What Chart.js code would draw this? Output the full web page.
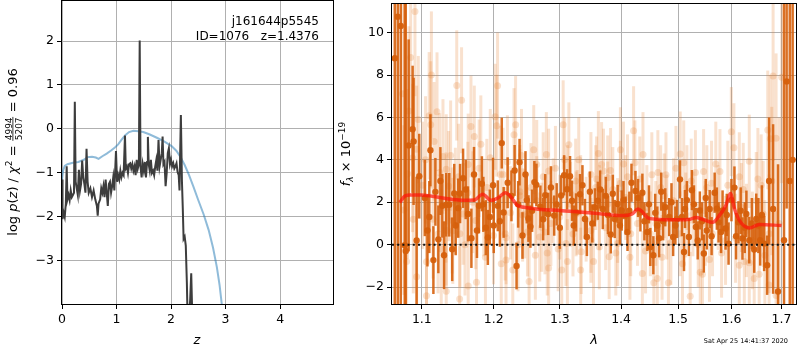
<!DOCTYPE html>
<html>
<head>
<meta charset="utf-8">
<script src="https://cdn.jsdelivr.net/npm/chart.js@4.4.1/dist/chart.umd.min.js"></script>
<style>
  body { margin: 0; background: #fff; }
  canvas { position: absolute; top: 0; }
  #pzChart { left: 0; }
  #specChart { left: 335px; }
</style>
</head>
<body>
<canvas id="pzChart" width="335" height="350"></canvas>
<canvas id="specChart" width="465" height="350"></canvas>
<script>
// ---- left panel: log p(z) ----
const zTicks = [0, 1, 2, 3, 4];
const logPzTicks = [-3, -2, -1, 0, 1, 2];

const zGrid = [
  0.000, 0.010, 0.030, 0.050, 0.070, 0.086, 0.100, 0.120, 0.140, 0.160,
  0.180, 0.200, 0.220, 0.235, 0.250, 0.270, 0.290, 0.310, 0.330, 0.350,
  0.370, 0.390, 0.410, 0.430, 0.450, 0.470, 0.490, 0.520, 0.550, 0.580,
  0.610, 0.640, 0.655, 0.670, 0.700, 0.720, 0.740, 0.760, 0.780, 0.800,
  0.820, 0.840, 0.860, 0.880, 0.900, 0.920, 0.940, 0.960, 0.990, 1.010,
  1.030, 1.050, 1.070, 1.090, 1.110, 1.130, 1.155, 1.170, 1.190, 1.210,
  1.230, 1.250, 1.270, 1.290, 1.310, 1.330, 1.350, 1.370, 1.390, 1.410,
  1.425, 1.440, 1.460, 1.480, 1.500, 1.520, 1.540, 1.560, 1.575, 1.590,
  1.610, 1.630, 1.650, 1.670, 1.690, 1.710, 1.730, 1.750, 1.770, 1.790,
  1.810, 1.830, 1.845, 1.860, 1.880, 1.900, 1.920, 1.940, 1.960, 1.980,
  2.000, 2.020, 2.040, 2.060, 2.080, 2.100, 2.120, 2.140, 2.155, 2.180,
  2.200, 2.215, 2.230, 2.250, 2.270, 2.290, 2.300, 2.320, 2.350, 2.370,
  2.390, 2.410, 2.450
];
const logPz = [
  -1.15, -2.05, -1.90, -2.00, -1.70, -0.85, -1.60, -1.50, -1.62, -1.40,
  -1.55, -1.50, -1.45, 0.62, -1.20, -1.35, -1.50, -0.93, -1.40, -1.25,
  -0.72, -1.10, -1.25, -1.45, -0.45, -1.20, -1.45, -1.35, -1.55, -1.40,
  -1.60, -1.75, -1.97, -1.70, -1.60, -1.35, -1.45, -1.30, -1.55, -1.15,
  -1.45, -1.75, -1.25, -1.20, -1.45, -1.30, -1.10, -1.40, -0.50, -1.20,
  -1.05, -1.15, -0.95, -1.10, -1.00, -1.05, -0.15, -0.90, -0.85, -1.00,
  -0.80, -0.78, -0.90, -0.80, -0.95, -0.85, -1.05, -0.70, -0.90, -0.80,
  2.01, -0.85, -1.10, -0.80, -0.95, -0.75, -1.10, -0.75, -0.18, -0.80,
  -0.95, -0.70, -1.00, -0.95, -1.05, -0.85, -0.70, -0.95, -0.25, -0.85,
  -0.70, -0.55, -0.17, -0.80, -0.75, -1.30, -1.00, -0.55, -0.44, -0.80,
  -0.70, -0.85, -0.78, -0.90, -0.85, -0.78, -0.98, -1.05, -1.40, 0.32,
  -1.20, -1.80, -2.50, -2.45, -2.65, -3.50, -4.10, -4.40, -3.90, -3.28,
  -4.30, -5.00, -6.00
];

const zTemplate = [
  0.00, 0.02, 0.05, 0.10, 0.20, 0.30, 0.40, 0.47, 0.55, 0.62,
  0.67, 0.74, 0.82, 0.90, 0.97, 1.03, 1.09, 1.16, 1.23, 1.31,
  1.40, 1.49, 1.60, 1.74, 1.88, 2.01, 2.10, 2.17, 2.25, 2.33,
  2.41, 2.50, 2.60, 2.69, 2.77, 2.84, 2.89, 2.93, 2.97
];
const logPzTemplate = [
  -1.16, -0.95, -0.84, -0.80, -0.77, -0.75, -0.70, -0.64, -0.63, -0.65,
  -0.68, -0.62, -0.56, -0.49, -0.42, -0.35, -0.25, -0.14, -0.07, -0.04,
  -0.05, -0.07, -0.12, -0.20, -0.29, -0.39, -0.50, -0.63, -0.82, -1.05,
  -1.31, -1.62, -1.95, -2.30, -2.70, -3.14, -3.55, -3.98, -4.40
];

// ---- right panel: spectrum ----
const lamTicks = [1.1, 1.2, 1.3, 1.4, 1.5, 1.6, 1.7];
const fluxTicks = [-2, 0, 2, 4, 6, 8, 10];

const lamModel = [
  1.071, 1.078, 1.085, 1.099, 1.124, 1.140, 1.155, 1.172, 1.184, 1.196,
  1.207, 1.217, 1.224, 1.234, 1.252, 1.303, 1.356, 1.400, 1.419, 1.429,
  1.436, 1.445, 1.459, 1.498, 1.522, 1.533, 1.545, 1.564, 1.579, 1.589,
  1.598, 1.606, 1.616, 1.635, 1.655, 1.700
];
const fluxModel = [
  1.99, 2.30, 2.34, 2.34, 2.22, 2.14, 2.09, 2.10, 2.38, 2.09,
  2.22, 2.45, 2.30, 1.88, 1.73, 1.60, 1.48, 1.37, 1.45, 1.68,
  1.56, 1.28, 1.20, 1.17, 1.20, 1.28, 1.20, 1.05, 1.45, 1.83,
  2.41, 1.68, 1.12, 0.79, 0.95, 0.90
];

// binned points (dark)
const lamBinned = [
  1.0646, 1.0684, 1.0723, 1.0775, 1.0788, 1.0826, 1.0878, 1.0891, 1.0931, 1.0966,
  1.1075, 1.1115, 1.1155, 1.1182, 1.1222, 1.1276, 1.1330, 1.1371, 1.1412, 1.1440,
  1.1495, 1.1521, 1.1563, 1.1632, 1.1717, 1.1759, 1.1787, 1.1829, 1.1886, 1.1915,
  1.1943, 1.2059, 1.2117, 1.2145, 1.2204, 1.2307, 1.2336, 1.2381, 1.2425, 1.2470,
  1.2515, 1.2545, 1.2605, 1.2636, 1.2697, 1.2772, 1.2818, 1.2911, 1.3020, 1.3067,
  1.3114, 1.3161, 1.3193, 1.3257, 1.3321, 1.3400, 1.3432, 1.3481, 1.3562, 1.3611,
  1.3693, 1.3743, 1.3826, 1.3892, 1.3942, 1.4010, 1.4077, 1.4109, 1.4177, 1.4245,
  1.4331, 1.4365, 1.4452, 1.4504, 1.4557, 1.4627, 1.4697, 1.4768, 1.4839, 1.4910,
  1.4980, 1.5034, 1.5107, 1.5125, 1.5197, 1.5252, 1.5326, 1.5400, 1.5474, 1.5530,
  1.5584, 1.5678, 1.5753, 1.5829, 1.5886, 1.5944, 1.6058, 1.6136, 1.6214, 1.6292,
  1.6349, 1.6447, 1.6487, 1.6566, 1.6646, 1.6706, 1.6746, 1.6827, 1.6928, 1.7051,
  1.7105, 1.7170, 1.7230,
  1.1040, 1.1100, 1.1250, 1.1300, 1.1460, 1.1600, 1.1680, 1.1850, 1.1990, 1.2000,
  1.2090, 1.2260, 1.2360, 1.2490, 1.2570, 1.2740, 1.2860, 1.2950, 1.3000, 1.3220,
  1.3360, 1.3520, 1.3650, 1.3780, 1.3860, 1.3980, 1.4040, 1.4140, 1.4290, 1.4400,
  1.4480, 1.4590, 1.4660, 1.4730, 1.4880, 1.4950, 1.5070, 1.5160, 1.5290, 1.5360,
  1.5440, 1.5510, 1.5620, 1.5720, 1.5800, 1.5910, 1.6000, 1.6090, 1.6180, 1.6260,
  1.6400, 1.6530, 1.6600
];
const fluxBinned = [
  8.79, 10.75, 10.31, -0.03, -0.30, 4.68, 5.44, 4.87, 0.20, 3.23,
  0.67, 4.45, -0.73, 2.49, 0.25, 1.83, 1.88, 1.88, -0.22, 2.41,
  1.72, 2.41, 3.13, 1.45, 3.31, 0.67, 1.83, 2.87, 0.80, 0.34,
  1.30, 1.83, 4.79, 1.52, 2.92, 3.50, -1.01, 3.89, 0.43, 3.31,
  1.23, 0.85, 2.95, 2.82, 1.79, 2.33, 1.45, 1.37, 2.32, 3.27,
  2.61, 3.23, 2.07, 1.52, 2.38, 1.21, 0.36, 2.50, 1.76, 2.07,
  1.68, 2.30, 0.48, 1.21, 1.92, 1.61, 1.37, 0.60, 2.92, 2.53,
  1.52, 2.45, 0.60, -0.11, -0.50, 0.90, 2.50, 1.76, 1.30, 0.36,
  1.21, 3.08, -0.35, 1.68, 0.36, 2.57, 0.83, 1.61, -0.42, 0.67,
  1.68, 2.45, 1.05, 1.61, 0.76, 0.05, 2.69, 1.05, 0.29, 1.45,
  0.21, -0.23, 1.21, 0.21, 0.05, -0.97, 3.00, 1.68, -2.21, 0.21,
  7.70, 3.00, 4.00,
  2.20, 1.30, 3.00, -0.50, 0.90, 2.60, 0.30, 1.90, 2.80, 0.90,
  1.10, 2.30, 1.90, 2.10, 1.60, 1.20, 2.70, 1.90, 0.80, 0.90,
  2.80, 1.00, 2.60, 1.40, 2.40, 0.90, 2.10, 1.60, 2.20, 1.10,
  1.90, 1.50, 0.30, 1.10, 2.00, 0.90, 1.30, 2.10, 1.90, 0.20,
  1.10, 2.20, 0.40, 1.70, 0.60, 1.40, 2.10, 0.40, 1.60, 0.80,
  1.00, 0.90, 1.40
];
const errBinned = [
  15, 15, 14, 12, 12, 5, 3, 3, 3, 2.0,
  1.7, 1.7, 1.6, 1.6, 1.6, 1.5, 1.5, 1.5, 1.5, 1.4,
  1.4, 1.4, 1.4, 1.3, 1.3, 1.3, 1.3, 1.3, 1.3, 1.3,
  1.3, 1.2, 1.2, 1.2, 1.2, 1.2, 1.1, 1.1, 1.1, 1.1,
  1.1, 1.0, 1.0, 1.0, 1.0, 1.0, 1.0, 0.95, 0.95, 0.95,
  0.95, 0.95, 0.95, 0.9, 0.95, 0.95, 0.9, 0.95, 0.9, 0.9,
  0.95, 0.9, 0.9, 0.9, 0.9, 0.95, 0.9, 0.9, 0.9, 0.95,
  0.9, 0.9, 0.9, 0.9, 0.9, 0.9, 0.9, 0.9, 0.9, 0.9,
  0.9, 0.9, 0.9, 0.9, 0.9, 0.95, 0.9, 0.9, 0.9, 0.9,
  0.9, 0.95, 0.95, 0.95, 1.0, 1.0, 1.0, 1.0, 1.0, 1.1,
  1.1, 1.1, 1.2, 1.2, 1.3, 1.4, 3, 4, 6, 15,
  6, 15, 15,
  1.8, 1.7, 1.6, 1.6, 1.4, 1.4, 1.4, 1.3, 1.3, 1.3,
  1.2, 1.2, 1.1, 1.1, 1.0, 1.0, 1.0, 1.0, 1.0, 0.95,
  0.95, 0.9, 0.9, 0.9, 0.9, 0.9, 0.9, 0.9, 0.9, 0.9,
  0.9, 0.9, 0.9, 0.9, 0.9, 0.9, 0.9, 0.9, 0.9, 0.9,
  0.9, 0.9, 0.9, 1.0, 1.0, 1.0, 1.0, 1.1, 1.1, 1.2,
  1.2, 1.3, 1.4
];

// individual exposures (light)
const lamRaw = [
  1.0748, 1.0763, 1.0799, 1.0812, 1.0829, 1.0852, 1.0878, 1.0887, 1.0909, 1.0931,
  1.0931, 1.0953, 1.1062, 1.1062, 1.1098, 1.1119, 1.1128, 1.1165, 1.1204, 1.1218,
  1.1261, 1.1285, 1.1326, 1.1330, 1.1330, 1.1330, 1.1363, 1.1412, 1.1420, 1.1455,
  1.1475, 1.1515, 1.1519, 1.1542, 1.1563, 1.1629, 1.1635, 1.1635, 1.1674, 1.1721,
  1.1741, 1.1752, 1.1814, 1.1856, 1.1900, 1.1997, 1.2020, 1.2043, 1.2056, 1.2097,
  1.2136, 1.2168, 1.2180, 1.2180, 1.2247, 1.2298, 1.2322, 1.2358, 1.2386, 1.2386,
  1.2427, 1.2459, 1.2525, 1.2553, 1.2595, 1.2641, 1.2641, 1.2687, 1.2717, 1.2768,
  1.2789, 1.2803, 1.2825, 1.2825, 1.2895, 1.2973, 1.2999, 1.3052, 1.3076, 1.3096,
  1.3119, 1.3119, 1.3142, 1.3208, 1.3251, 1.3258, 1.3275, 1.3331, 1.3331, 1.3341,
  1.3498, 1.3498, 1.3498, 1.3576, 1.3590, 1.3636, 1.3636, 1.3673, 1.3705, 1.3775,
  1.3775, 1.3799, 1.3822, 1.3942, 1.3942, 1.3988, 1.3988, 1.4077, 1.4109, 1.4164,
  1.4213, 1.4236, 1.4365, 1.4376, 1.4443, 1.4504, 1.4566, 1.4627, 1.4637, 1.4686,
  1.4711, 1.4781, 1.4797, 1.4825, 1.4916, 1.5034, 1.5038, 1.5102, 1.5161, 1.5221,
  1.5271, 1.5317, 1.5407, 1.5448, 1.5470, 1.5530, 1.5619, 1.5638, 1.5744, 1.5779,
  1.5886, 1.5997, 1.6048, 1.6153, 1.6153, 1.6193, 1.6251, 1.6292, 1.6349, 1.6349,
  1.6447, 1.6487, 1.6546, 1.6586, 1.6626, 1.6719, 1.6746, 1.6746, 1.6770, 1.6827,
  1.6888, 1.6888, 1.7004,
  1.1010, 1.1050, 1.1150, 1.1240, 1.1390, 1.1500, 1.1590, 1.1700, 1.1790, 1.1880,
  1.1950, 1.2110, 1.2200, 1.2280, 1.2410, 1.2500, 1.2620, 1.2740, 1.2860, 1.2930,
  1.3030, 1.3170, 1.3300, 1.3420, 1.3540, 1.3620, 1.3740, 1.3860, 1.3910, 1.4040,
  1.4150, 1.4280, 1.4320, 1.4420, 1.4530, 1.4600, 1.4750, 1.4870, 1.4960, 1.5080,
  1.5140, 1.5240, 1.5370, 1.5500, 1.5580, 1.5700, 1.5810, 1.5930, 1.6080, 1.6230,
  1.6410, 1.6520, 1.6660, 1.6800, 1.6950
];
const fluxRaw = [
  7.12, 1.63, -0.80, 3.34, 6.30, 8.83, 4.09, 1.20, 11.00, 4.50,
  -1.51, 5.90, -0.81, -2.41, 6.08, 5.65, 8.00, 4.87, 6.27, 0.50,
  -0.20, 4.16, 1.75, 3.55, 0.67, -2.20, 2.76, 1.14, 0.65, 2.07,
  7.51, -2.57, 0.51, 6.81, 1.45, 2.45, 3.78, -1.95, 5.57, 5.10,
  1.14, -1.77, 4.74, 1.75, 2.69, 0.43, 6.03, 5.61, 7.50, 3.31,
  3.31, 0.51, -0.73, 0.33, 1.50, 5.18, 5.65, 0.00, 2.50, 2.30,
  1.40, 1.45, -1.74, 2.69, 4.48, 3.78, 2.07, 0.36, 0.82, 0.60,
  4.25, -0.40, 3.47, -1.10, 2.07, -0.20, 1.30, 5.65, 4.00, 0.05,
  2.69, -0.80, 4.71, 0.50, 3.00, 1.45, 1.52, 2.22, -1.20, -0.33,
  3.31, 0.67, 0.20, 2.69, 3.10, 1.75, -0.11, 3.78, 3.47, 3.15,
  1.92, -0.57, 3.50, 1.14, 0.05, 4.48, 2.90, 2.22, 3.20, 0.51,
  5.37, 3.86, -1.36, 4.25, 1.75, 0.51, -1.80, -1.60, 3.40, 2.69,
  -0.60, 3.30, 1.30, -1.80, 2.07, 0.51, 4.28, 3.86, 2.69, -2.44,
  1.45, 3.40, -1.30, -1.40, 3.45, 2.69, 2.90, 0.51, 1.75, 3.45,
  0.20, 5.33, 4.57, 3.20, -0.97, 1.75, -0.80, 0.67, 3.93, -0.85,
  -1.60, 2.07, -1.40, 2.80, 1.45, 5.41, 0.51, -1.90, 5.00, 7.95,
  5.02, -2.40, 7.90,
  2.80, 4.00, 1.20, 3.40, 4.20, 3.20, 0.00, 2.00, 3.60, -0.60,
  4.10, -0.90, 3.90, -1.20, 4.20, 0.60, -0.50, 3.20, 1.00, 3.60,
  -1.20, 1.90, 4.00, 1.20, -0.80, 4.30, 0.80, 2.60, -0.40, 3.80,
  -0.60, 1.00, 3.10, -0.30, 3.30, 1.00, 2.30, 0.10, 3.60, -0.90,
  1.40, 3.00, 0.00, 1.00, -0.70, 3.80, -0.40, 2.80, 0.30, 2.60,
  0.20, 3.10, -0.50, 3.00, 1.00
];
const errRaw = [
  5, 4, 4, 4, 4, 4, 3.5, 3.5, 4, 3,
  3, 3, 3, 3, 3, 3, 3, 2.8, 2.8, 2.8,
  2.8, 2.7, 2.6, 2.6, 2.6, 2.6, 2.6, 2.5, 2.5, 2.5,
  2.6, 2.5, 2.5, 2.5, 2.4, 2.4, 2.4, 2.4, 2.4, 2.4,
  2.3, 2.3, 2.3, 2.3, 2.3, 2.3, 2.5, 2.4, 2.5, 2.3,
  2.2, 2.2, 2.2, 2.2, 2.2, 2.2, 2.3, 2.2, 2.2, 2.2,
  2.2, 2.1, 2.1, 2.1, 2.1, 2.1, 2.1, 2.1, 2.1, 2.0,
  2.0, 2.0, 2.0, 2.0, 2.0, 2.0, 2.0, 2.1, 2.0, 2.0,
  2.0, 2.0, 2.0, 2.0, 2.0, 2.0, 2.0, 2.0, 2.0, 2.0,
  2.0, 2.0, 2.0, 2.0, 2.0, 2.0, 2.0, 2.0, 2.0, 2.0,
  2.0, 2.0, 2.0, 2.0, 2.0, 2.0, 2.0, 2.0, 2.0, 2.0,
  2.1, 2.0, 2.0, 2.0, 2.0, 2.0, 2.0, 2.0, 2.0, 2.0,
  2.0, 2.0, 2.0, 2.0, 2.0, 2.0, 2.0, 2.0, 2.0, 2.1,
  2.0, 2.0, 2.0, 2.0, 2.0, 2.0, 2.0, 2.0, 2.0, 2.0,
  2.1, 2.1, 2.1, 2.1, 2.1, 2.1, 2.2, 2.2, 2.2, 2.2,
  2.3, 2.3, 2.4, 2.4, 2.5, 2.8, 2.8, 2.8, 3, 4,
  4, 4, 5,
  3, 3, 2.8, 2.8, 2.6, 2.5, 2.4, 2.4, 2.3, 2.3,
  2.3, 2.2, 2.2, 2.2, 2.2, 2.1, 2.1, 2.1, 2.0, 2.0,
  2.0, 2.0, 2.0, 2.0, 2.0, 2.0, 2.0, 2.0, 2.0, 2.0,
  2.0, 2.0, 2.0, 2.0, 2.0, 2.0, 2.0, 2.0, 2.0, 2.0,
  2.0, 2.0, 2.0, 2.0, 2.0, 2.0, 2.1, 2.1, 2.1, 2.2,
  2.3, 2.4, 2.6, 3.5, 5
];

const FONT = 'DejaVu Sans';
const pts = (xs, ys) => xs.map((x, i) => ({ x: x, y: ys[i] }));
const minus = v => String(v).replace('-', '\u2212');

// vertical error bars, drawn just before the dataset's own markers
const errorBars = {
  id: 'errorBars',
  beforeDatasetDraw(chart, args) {
    const ds = chart.data.datasets[args.index];
    if (!ds.errors) return;
    const { ctx, chartArea: a } = chart;
    const xs = chart.scales.x, ys = chart.scales.y;
    ctx.save();
    ctx.beginPath();
    ctx.rect(a.left, a.top, a.right - a.left, a.bottom - a.top);
    ctx.clip();
    ctx.strokeStyle = ds.errorColor;
    ctx.lineWidth = ds.errorWidth;
    ds.data.forEach((p, i) => {
      const px = xs.getPixelForValue(p.x);
      ctx.beginPath();
      ctx.moveTo(px, ys.getPixelForValue(p.y - ds.errors[i]));
      ctx.lineTo(px, ys.getPixelForValue(p.y + ds.errors[i]));
      ctx.stroke();
    });
    ctx.restore();
  }
};

// black box round the axes
const frame = {
  id: 'frame',
  afterDatasetsDraw(chart) {
    const { ctx, chartArea: a } = chart;
    ctx.save();
    ctx.strokeStyle = '#000';
    ctx.lineWidth = 1;
    ctx.strokeRect(Math.round(a.left) - 0.5, Math.round(a.top) - 0.5,
      Math.round(a.right - a.left) + 1, Math.round(a.bottom - a.top) + 1);
    ctx.restore();
  }
};

// text made of pieces: [text, font, dy] or {num, den, font}
function richText(ctx, parts, cx, cy, angle) {
  ctx.save();
  ctx.translate(cx, cy);
  ctx.rotate(angle);
  ctx.fillStyle = '#000';
  ctx.textBaseline = 'alphabetic';
  const widths = parts.map(p => {
    if (p.num) {
      ctx.font = p.font;
      return Math.max(ctx.measureText(p.num).width, ctx.measureText(p.den).width) + 2;
    }
    ctx.font = p[1];
    return ctx.measureText(p[0]).width;
  });
  let x = -widths.reduce((s, w) => s + w, 0) / 2;
  parts.forEach((p, i) => {
    if (p.num) {
      ctx.font = p.font;
      ctx.textAlign = 'center';
      const mid = x + widths[i] / 2;
      ctx.fillText(p.num, mid, -5.5);
      ctx.fillText(p.den, mid, 5);
      ctx.fillRect(x + 0.5, -4.5, widths[i] - 1, 0.8);
      ctx.textAlign = 'left';
    } else {
      ctx.font = p[1];
      ctx.textAlign = 'left';
      ctx.fillText(p[0], x, p[2] || 0);
    }
    x += widths[i];
  });
  ctx.restore();
}

const N = '13px "' + FONT + '"';
const I = 'italic 13px "' + FONT + '"';
const S = '9px "' + FONT + '"';
const IS = 'italic 9px "' + FONT + '"';

const pzText = {
  id: 'pzText',
  afterDraw(chart) {
    const ctx = chart.ctx;
    richText(ctx, [['log ', N], ['p', I], ['(', N], ['z', I], [') / ', N], ['\u03c7', I],
      ['2', S, -5.5], [' = ', N], { num: '4994', den: '5207', font: S }, [' = 0.96', N]],
      17, 152, -Math.PI / 2);
    richText(ctx, [['z', I]], 197, 344, 0);
    ctx.save();
    ctx.font = '12px "' + FONT + '"';
    ctx.fillStyle = '#000';
    ctx.textAlign = 'right';
    ctx.fillText('j161644p5545', 319, 25);
    ctx.fillText('ID=1076   z=1.4376', 319, 40);
    ctx.restore();
  }
};

const specText = {
  id: 'specText',
  afterDraw(chart) {
    const ctx = chart.ctx;
    richText(ctx, [['f', I], ['\u03bb', IS, 3], [' \u00d7 10', N], ['\u221219', S, -5.5]],
      15, 154, -Math.PI / 2);
    richText(ctx, [['\u03bb', I]], 259, 344, 0);
    ctx.save();
    ctx.font = '6.5px "' + FONT + '"';
    ctx.fillStyle = '#000';
    ctx.textAlign = 'right';
    ctx.fillText('Sat Apr 25 14:41:37 2020', 453, 343);
    ctx.restore();
  }
};

function axis(ticks, size, extra) {
  return Object.assign({
    afterBuildTicks: s => { s.ticks = ticks.map(v => ({ value: v })); },
    afterFit: s => {
      if (s.isHorizontal()) s.height = size; else s.width = size;
      s.paddingTop = 0; s.paddingBottom = 0; s.paddingLeft = 0; s.paddingRight = 0;
    },
    grid: { color: '#b0b0b0', lineWidth: 1, tickLength: 5, tickColor: '#000', tickWidth: 1 },
    border: { display: false },
    ticks: { autoSkip: false, maxRotation: 0, color: '#000', font: { family: FONT, size: 12.5 }, callback: v => minus(v) }
  }, extra);
}

new Chart(document.getElementById('pzChart'), {
  type: 'scatter',
  data: {
    datasets: [
      {
        data: pts(zGrid, logPz), showLine: true, pointRadius: 0,
        borderColor: '#3d3d3d', borderWidth: 2, clip: 0, order: 1
      },
      {
        data: pts(zTemplate, logPzTemplate), showLine: true, pointRadius: 0,
        borderColor: 'rgba(31,119,180,0.5)', borderWidth: 2, clip: 0, order: 2
      }
    ]
  },
  options: {
    responsive: false, animation: false,
    layout: { padding: { top: 1, right: 2, left: 0, bottom: 0 } },
    plugins: { legend: { display: false }, tooltip: { enabled: false } },
    scales: {
      x: axis(zTicks, 46, { type: 'linear', min: 0, max: 4.97 }),
      y: axis(logPzTicks, 62, { min: -3.98, max: 2.91 })
    }
  },
  plugins: [frame, pzText]
});

const lamAxis = axis(lamTicks, 46, { type: 'logarithmic', min: 1.061, max: 1.730 });
lamAxis.ticks = Object.assign({}, lamAxis.ticks, { callback: v => v.toFixed(1) });

new Chart(document.getElementById('specChart'), {
  type: 'scatter',
  data: {
    datasets: [
      {
        data: pts(lamRaw, fluxRaw), errors: errRaw,
        errorColor: 'rgba(232,128,52,0.24)', errorWidth: 3,
        pointRadius: 3.5, pointBorderWidth: 0,
        pointBackgroundColor: 'rgba(232,128,52,0.24)', clip: 0, order: 5
      },
      {
        data: pts(lamBinned, fluxBinned), errors: errBinned,
        errorColor: 'rgba(214,96,12,0.9)', errorWidth: 2.5,
        pointRadius: 3.2, pointBorderWidth: 0,
        pointBackgroundColor: 'rgba(214,96,12,0.95)', clip: 0, order: 4
      },
      {
        data: pts(lamModel, fluxModel), showLine: true, pointRadius: 0,
        borderColor: 'rgba(255,20,10,0.7)', borderWidth: 3.5,
        cubicInterpolationMode: 'monotone', clip: 0, order: 2
      },
      {
        data: [{ x: 1.061, y: 0 }, { x: 1.73, y: 0 }], showLine: true, pointRadius: 0,
        borderColor: '#111', borderWidth: 2, borderDash: [2, 3.2], clip: 0, order: 1
      }
    ]
  },
  options: {
    responsive: false, animation: false,
    layout: { padding: { top: 1, right: 1, left: 0, bottom: 0 } },
    plugins: { legend: { display: false }, tooltip: { enabled: false } },
    scales: {
      x: lamAxis,
      y: axis(fluxTicks, 57, { min: -2.8, max: 11.35 })
    }
  },
  plugins: [errorBars, frame, specText]
});
</script>
</body>
</html>
